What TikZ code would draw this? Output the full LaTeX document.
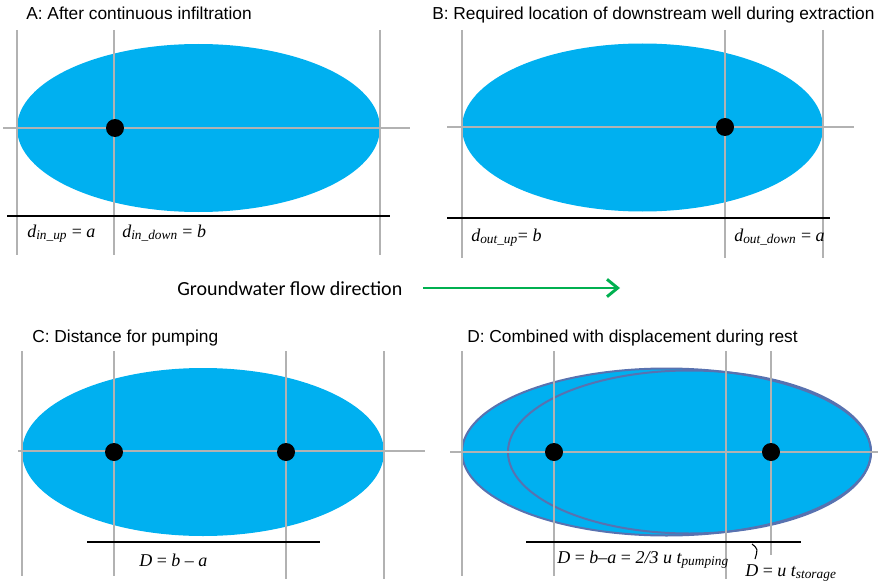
\documentclass[tikz,border=0pt]{standalone}
\usepackage{fontspec}
\setmainfont{Liberation Sans}
\newfontfamily\calfont{Carlito}
\newfontfamily\serfont{Liberation Serif}
\usetikzlibrary{arrows.meta}
\definecolor{plume}{RGB}{0,176,240}
\definecolor{guide}{RGB}{178,178,178}
\definecolor{rim}{RGB}{88,114,176}
\definecolor{flow}{RGB}{0,176,80}
\tikzset{
  title/.style={anchor=base west,inner sep=0pt,font=\fontsize{13}{15}\selectfont},
  lbl/.style={anchor=base west,inner sep=0pt,font=\serfont\itshape\fontsize{13.5}{15}\selectfont},
  well/.style={circle,fill=black,inner sep=0pt,minimum size=13.5pt},
  grid/.style={guide,line width=1.1pt},
  ruler/.style={black,line width=0.9pt}
}
\newcommand{\sub}[1]{\textsubscript{\fontsize{10}{11}\selectfont #1}}
\begin{document}
\begin{tikzpicture}
    [x=0.75pt,y=-0.75pt]
    \useasboundingbox (0,0) rectangle (878,585);
    %panel A
    \node[title] (tA) at (26,20) {A: After continuous infiltration};
    \fill[plume] (198.5,128) ellipse[x radius=181.5,y radius=84];
    \draw[grid] (17,30)--(17,255);
    \draw[grid] (114,30)--(114,255);
    \draw[grid] (380,30)--(380,255);
    \draw[grid] (3,128)--(410,128);
    \draw[ruler] (7,216)--(390,216);
    \node[well] (wA) at (115,128) {};
    \node[lbl] (dinup) at (27,237) {d\sub{in\_up}\upshape{} = \itshape a};
    \node[lbl] (dindown) at (122,237) {d\sub{in\_down}\upshape{} = \itshape b};
    %panel B
    \node[title] (tB) at (432,20) {B: Required location of downstream well during extraction};
    \fill[plume] (642.5,127.5) ellipse[x radius=180.5,y radius=84];
    \draw[grid] (462,30)--(462,258);
    \draw[grid] (725,30)--(725,258);
    \draw[grid] (823,30)--(823,258);
    \draw[grid] (447,127)--(854,127);
    \draw[ruler] (447,218)--(830,218);
    \node[well] (wB) at (725,127) {};
    \node[lbl] (doutup) at (471,241) {d\sub{out\_up}\upshape= \itshape b};
    \node[lbl] (doutdown) at (734,241) {d\sub{out\_down}\upshape{} = \itshape a};
    %flow direction
    \node[anchor=base west,inner sep=0pt,font=\calfont\fontsize{15}{17}\selectfont] (gw) at (177,295) {Groundwater flow direction};
    \coordinate (fs) at (423,288);
    \coordinate (fe) at (620,288);
    \draw[flow,line width=2.2pt,-{Straight Barb[length=8pt,width=13pt,line width=2.2pt]}] (fs)--(fe);
    %panel C
    \node[title] (tC) at (32,342) {C: Distance for pumping};
    \fill[plume] (203,452) ellipse[x radius=181,y radius=84];
    \draw[grid] (22,351)--(22,576);
    \draw[grid] (114,351)--(114,576);
    \draw[grid] (286,351)--(286,579);
    \draw[grid] (384,351)--(384,579);
    \draw[grid] (18,451)--(425,451);
    \draw[ruler] (87,542)--(320,542);
    \node[well] (wC1) at (114,452) {};
    \node[well] (wC2) at (286,452) {};
    \node[lbl] (DC) at (139,566) {D \upshape= \itshape b \upshape{\textendash} \itshape a};
    %panel D
    \node[title] (tD) at (467,342) {D: Combined with displacement during rest};
    \filldraw[fill=plume,draw=rim,line width=1.5pt] (666.5,452) ellipse[x radius=204.5,y radius=83.5];
    \draw[rim,line width=1.5pt] (689.5,452) ellipse[x radius=181.5,y radius=81.5];
    \draw[grid] (462,351)--(462,576);
    \draw[grid] (554,351)--(554,576);
    \draw[grid] (726,351)--(726,579);
    \draw[grid] (771,351)--(771,555);
    \draw[grid] (450,452)--(878,452);
    \draw[ruler] (526,542)--(801,542);
    \node[well] (wD1) at (554,452) {};
    \node[well] (wD2) at (771,452) {};
    \node[lbl] (Dpump) at (557,563) {D \upshape= \itshape b\upshape{\textendash}\itshape a \upshape= \itshape 2/3 u t\sub{pumping}};
    \node[lbl] (Dstor) at (745,576) {D \upshape= \itshape u t\sub{storage}};
    \coordinate (tick) at (752,544);
    \draw[black,line width=0.8pt] (tick) .. controls (758,549) .. (755,559);
\end{tikzpicture}
\end{document}
